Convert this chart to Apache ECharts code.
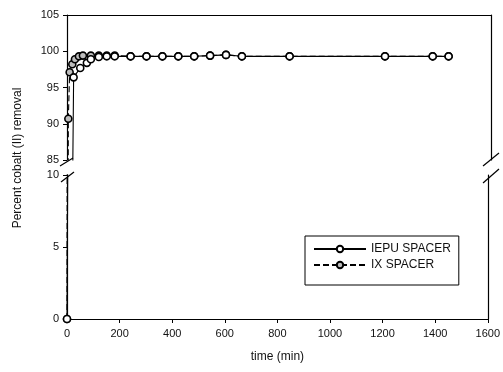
<!DOCTYPE html>
<html>
<head>
<meta charset="utf-8">
<script src="https://cdn.jsdelivr.net/npm/echarts@6/dist/echarts.min.js"></script>
<style>
html,body{margin:0;padding:0;background:#fff;}
#c{width:503px;height:372px;}
</style>
</head>
<body>
<div id="c"></div>
<script>
// ---- data ----
var seriesNames = ['IEPU SPACER', 'IX SPACER'];
var xTicks = [0, 200, 400, 600, 800, 1000, 1200, 1400, 1600];
var iepuTime  = [0, 25, 50, 75, 90, 120, 150, 180, 240, 300, 360, 420, 480, 540, 600, 660, 840, 1200, 1380, 1440];
var iepuValue = [0, 96.4, 97.7, 98.4, 98.9, 99.2, 99.3, 99.3, 99.3, 99.3, 99.3, 99.3, 99.3, 99.4, 99.5, 99.3, 99.3, 99.3, 99.3, 99.3];
var ixTime  = [0, 5, 10, 20, 30, 45, 60, 90, 120, 150, 180, 240, 300, 360, 420, 480, 540, 600, 660, 840, 1200, 1380, 1440];
var ixValue = [0, 90.7, 97.1, 98.2, 98.9, 99.3, 99.4, 99.4, 99.4, 99.4, 99.4, 99.3, 99.3, 99.3, 99.3, 99.3, 99.4, 99.5, 99.3, 99.3, 99.3, 99.3, 99.3];

function pairs(t, v) { return t.map(function (x, i) { return [x, v[i]]; }); }

var FONT = 'Liberation Sans';
var chart = echarts.init(document.getElementById('c'), null, {renderer: 'canvas'});

function mkSeries(name, data, gi, dashed) {
  return {
    name: name, type: 'line', xAxisIndex: gi, yAxisIndex: gi * 2,
    data: data, clip: true, symbol: 'circle', symbolSize: 7,
    lineStyle: {color: '#000', width: 1.1, type: dashed ? [6, 3] : 'solid'},
    itemStyle: {color: dashed ? '#bdbdbd' : '#fff', borderColor: '#000', borderWidth: 1.6},
    emphasis: {disabled: true}, animation: false
  };
}

var axisLineBlack = {show: true, onZero: false, lineStyle: {color: '#000', width: 1.2}};
var lbl = {color: '#111', fontSize: 11, fontFamily: FONT};

chart.setOption({
  animation: false,
  backgroundColor: '#fff',
  grid: [
    {left: 67, right: 12, top: 15, height: 145},
    {left: 67, right: 12, top: 175, height: 144}
  ],
  legend: {
    data: seriesNames, orient: 'vertical', left: 305, top: 236,
    itemWidth: 52, itemHeight: 8, itemGap: 4,
    padding: [7, 8, 14, 8], borderColor: '#000', borderWidth: 1,
    textStyle: {fontSize: 12, color: '#111', fontFamily: FONT}
  },
  xAxis: [
    {gridIndex: 0, type: 'value', position: 'top', min: 0, max: 1600, interval: 200,
     axisLine: axisLineBlack, axisTick: {show: false}, axisLabel: {show: false}, splitLine: {show: false}},
    {gridIndex: 1, type: 'value', position: 'bottom', min: 0, max: 1600, interval: 200,
     axisLine: axisLineBlack, axisTick: {show: true, length: 4, lineStyle: {color: '#000'}},
     axisLabel: Object.assign({margin: 9, formatter: function (v) { return String(v); }}, lbl),
     splitLine: {show: false},
     name: 'time (min)', nameLocation: 'middle', nameGap: 32,
     nameTextStyle: {fontSize: 12, color: '#111', fontFamily: FONT}}
  ],
  yAxis: [
    {gridIndex: 0, type: 'value', min: 85, max: 105, interval: 5, position: 'left',
     axisLine: axisLineBlack, axisTick: {show: true, length: 4, lineStyle: {color: '#000'}},
     axisLabel: Object.assign({margin: 8}, lbl), splitLine: {show: false}},
    {gridIndex: 0, type: 'value', min: 85, max: 105, interval: 5, position: 'right',
     axisLine: axisLineBlack, axisTick: {show: false}, axisLabel: {show: false}, splitLine: {show: false}},
    {gridIndex: 1, type: 'value', min: 0, max: 10, interval: 5, position: 'left',
     axisLine: axisLineBlack, axisTick: {show: true, length: 4, lineStyle: {color: '#000'}},
     axisLabel: Object.assign({margin: 8}, lbl), splitLine: {show: false}},
    {gridIndex: 1, type: 'value', min: 0, max: 10, interval: 5, position: 'right',
     axisLine: axisLineBlack, axisTick: {show: false}, axisLabel: {show: false}, splitLine: {show: false}}
  ],
  series: [
    mkSeries(seriesNames[1], pairs(ixTime, ixValue), 0, true),
    mkSeries(seriesNames[0], pairs(iepuTime, iepuValue), 0, false),
    mkSeries(seriesNames[1], pairs(ixTime, ixValue), 1, true),
    mkSeries(seriesNames[0], pairs(iepuTime, iepuValue), 1, false)
  ],
  graphic: [
    {type: 'text', x: 18, y: 158, rotation: Math.PI / 2,
     style: {text: 'Percent cobalt (II) removal', fontSize: 12, fontFamily: FONT, fill: '#111',
             align: 'center', verticalAlign: 'middle'}},
    {type: 'line', shape: {x1: 60, y1: 166, x2: 73, y2: 158}, style: {stroke: '#000', lineWidth: 1.2}},
    {type: 'line', shape: {x1: 61, y1: 182, x2: 74, y2: 172}, style: {stroke: '#000', lineWidth: 1.2}},
    {type: 'line', shape: {x1: 483, y1: 166, x2: 499, y2: 153}, style: {stroke: '#000', lineWidth: 1.2}},
    {type: 'line', shape: {x1: 483, y1: 183, x2: 499, y2: 169}, style: {stroke: '#000', lineWidth: 1.2}}
  ]
});
</script>
</body>
</html>
